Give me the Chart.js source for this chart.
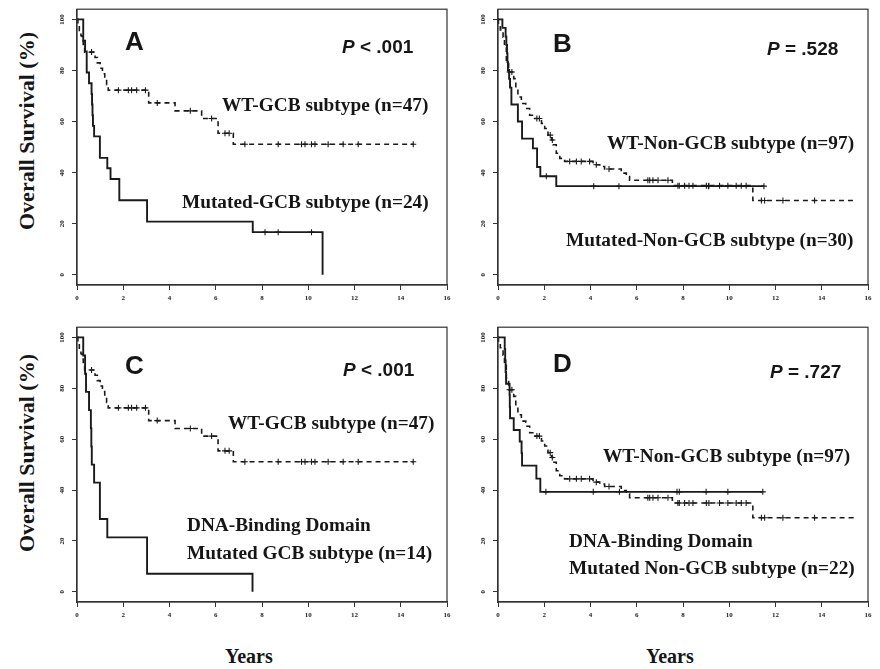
<!DOCTYPE html>
<html>
<head>
<meta charset="utf-8">
<script src="https://cdn.jsdelivr.net/npm/chart.js@4.4.1/dist/chart.umd.min.js"></script>
<style>
    body { margin: 0; background: #fff; }
    #page { position: relative; width: 880px; height: 669px; overflow: hidden; background: #fff; }
    .panel { position: absolute; width: 420px; height: 310px; }
    .txt { position: absolute; white-space: nowrap; line-height: 1; color: #161616; }
    .serif { font-family: "Liberation Serif", "Times New Roman", serif; font-weight: bold; font-size: 19.3px; }
    .sans { font-family: "Liberation Sans", Arial, sans-serif; font-weight: bold; }
    .letter { font-size: 26px; }
    .pval { font-size: 19px; }
    .ytitle { font-family: "Liberation Serif", serif; font-weight: bold; font-size: 22px;
              transform: translate(-50%, -50%) rotate(-90deg); }
    .xtitle { font-family: "Liberation Serif", serif; font-weight: bold; font-size: 20px; }
</style>
</head>
<body>
<div id="page">
    <div class="panel" style="left:40px; top:0px;"><canvas id="chartA" width="420" height="310"></canvas></div>
    <div class="panel" style="left:461px; top:0px;"><canvas id="chartB" width="420" height="310"></canvas></div>
    <div class="panel" style="left:40px; top:318px;"><canvas id="chartC" width="420" height="310"></canvas></div>
    <div class="panel" style="left:461px; top:318px;"><canvas id="chartD" width="420" height="310"></canvas></div>

    <!-- axis titles -->
    <div class="txt ytitle" style="left:27px; top:131px;">Overall Survival (%)</div>
    <div class="txt ytitle" style="left:27px; top:453px;">Overall Survival (%)</div>
    <div class="txt xtitle" style="left:225px; top:646px;">Years</div>
    <div class="txt xtitle" style="left:646px; top:646px;">Years</div>

    <!-- panel A -->
    <div class="txt sans letter" style="left:125px; top:28px;">A</div>
    <div class="txt sans pval" style="left:342px; top:37px;"><i>P</i> &lt; .001</div>
    <div class="txt serif" style="left:222px; top:95px;">WT-GCB subtype (n=47)</div>
    <div class="txt serif" style="left:182px; top:192px;">Mutated-GCB subtype (n=24)</div>

    <!-- panel B -->
    <div class="txt sans letter" style="left:553px; top:30px;">B</div>
    <div class="txt sans pval" style="left:767px; top:39px;"><i>P</i> = .528</div>
    <div class="txt serif" style="left:607px; top:133px;">WT-Non-GCB subtype (n=97)</div>
    <div class="txt serif" style="left:566px; top:230px;">Mutated-Non-GCB subtype (n=30)</div>

    <!-- panel C -->
    <div class="txt sans letter" style="left:125px; top:352px;">C</div>
    <div class="txt sans pval" style="left:343px; top:360px;"><i>P</i> &lt; .001</div>
    <div class="txt serif" style="left:228px; top:413px;">WT-GCB subtype (n=47)</div>
    <div class="txt serif" style="left:187px; top:515px;">DNA-Binding Domain</div>
    <div class="txt serif" style="left:187px; top:543px;">Mutated GCB subtype (n=14)</div>

    <!-- panel D -->
    <div class="txt sans letter" style="left:553px; top:350px;">D</div>
    <div class="txt sans pval" style="left:770px; top:362px;"><i>P</i> = .727</div>
    <div class="txt serif" style="left:603px; top:446px;">WT-Non-GCB subtype (n=97)</div>
    <div class="txt serif" style="left:569px; top:531px;">DNA-Binding Domain</div>
    <div class="txt serif" style="left:569px; top:558px;">Mutated Non-GCB subtype (n=22)</div>
</div>

<script>
// ==================================================
// 1. DATA
// ==================================================
const xTicks = [0, 2, 4, 6, 8, 10, 12, 14, 16];
const yTicks = [0, 20, 40, 60, 80, 100];

// WT-GCB subtype (n=47) - dashed, panels A and C
const wtGcbTime = [0, 0.04, 0.10, 0.17, 0.22, 0.27, 0.33, 0.78, 0.88, 1.00, 1.10, 1.20, 1.28, 1.35, 3.10, 4.24, 5.39, 6.10, 6.76, 14.54];
const wtGcbSurv = [100, 97.9, 95.7, 93.6, 91.5, 89.4, 87.2, 85.1, 83.0, 80.9, 78.7, 76.6, 74.4, 72.3, 67.3, 64.2, 61.2, 55.4, 51.1, 51.1];
const wtGcbCens = [0.63, 1.79, 2.22, 2.36, 2.58, 2.96, 3.47, 4.90, 5.82, 6.40, 6.58, 7.26, 8.70, 9.71, 9.86, 10.14, 10.29, 10.86, 11.51, 12.16, 14.54];

// Mutated-GCB subtype (n=24) - solid, panel A
const mutGcbTime = [0, 0.27, 0.35, 0.42, 0.52, 0.63, 0.65, 0.67, 0.69, 0.74, 0.99, 1.31, 1.45, 1.83, 3.03, 7.60, 10.62];
const mutGcbSurv = [100, 91.7, 87.5, 79.2, 75.0, 70.8, 66.7, 62.5, 58.3, 54.2, 45.8, 41.7, 37.5, 29.2, 20.8, 16.7, 0];
const mutGcbCens = [8.13, 8.70, 10.14];

// WT-Non-GCB subtype (n=97) - dashed, panels B and D
const wtNonGcbTime = [0, 0.02, 0.10, 0.22, 0.28, 0.36, 0.46, 0.68, 0.77, 0.86, 1.01, 1.20, 1.37, 1.54, 1.88, 2.02, 2.16, 2.31, 2.38, 2.52, 2.67, 2.88, 4.11, 4.40, 4.61, 5.33, 5.55, 5.69, 7.54, 11.02, 15.50];
const wtNonGcbSurv = [100, 97.9, 95.9, 93.0, 89.0, 84.0, 79.4, 76.8, 72.9, 69.6, 67.1, 65.1, 62.5, 61.2, 59.3, 57.3, 54.7, 52.8, 50.9, 47.6, 45.6, 44.4, 43.1, 42.4, 41.4, 39.8, 38.5, 37.0, 34.9, 29.1, 29.1];
const wtNonGcbCens = [0.50, 0.60, 1.68, 1.79, 2.26, 2.35, 3.10, 3.39, 3.60, 3.96, 4.25, 4.80, 6.48, 6.56, 6.70, 6.92, 7.35, 7.78, 7.84, 8.07, 8.26, 8.43, 9.01, 9.12, 9.58, 9.94, 10.30, 10.52, 10.73, 11.39, 11.53, 12.32, 13.69];

// Mutated-Non-GCB subtype (n=30) - solid, panel B
const mutNonGcbTime = [0, 0.19, 0.33, 0.36, 0.39, 0.41, 0.43, 0.48, 0.52, 0.58, 0.86, 1.04, 1.51, 1.69, 1.83, 2.52, 11.50];
const mutNonGcbSurv = [100, 96.7, 93.3, 90.0, 86.7, 83.3, 80.0, 76.7, 73.3, 66.7, 60.0, 53.3, 49.5, 42.2, 38.6, 34.7, 34.7];
const mutNonGcbCens = [2.09, 4.14, 5.23, 9.10, 11.50];

// DNA-Binding Domain Mutated GCB subtype (n=14) - solid, panel C
const dnaGcbTime = [0, 0.27, 0.35, 0.39, 0.52, 0.60, 0.62, 0.64, 0.74, 0.99, 1.31, 3.03, 7.59];
const dnaGcbSurv = [100, 92.9, 85.7, 78.6, 71.4, 64.3, 57.1, 50.0, 42.9, 28.6, 21.4, 7.1, 0];
const dnaGcbCens = [];

// DNA-Binding Domain Mutated Non-GCB subtype (n=22) - solid, panel D
const dnaNonGcbTime = [0, 0.29, 0.31, 0.33, 0.35, 0.50, 0.51, 0.52, 0.68, 0.94, 1.02, 1.04, 1.66, 1.83, 11.45];
const dnaNonGcbSurv = [100, 95.5, 90.9, 86.4, 81.8, 77.3, 72.7, 68.2, 63.6, 59.1, 54.5, 49.6, 44.5, 39.3, 39.3];
const dnaNonGcbCens = [2.07, 4.12, 5.25, 7.74, 7.84, 9.00, 9.94, 11.45];

// ==================================================
// 2. HELPERS
// ==================================================
const INK = '#1a1a1a';

function toPoints(times, surv) {
    return times.map((t, i) => ({ x: t, y: surv[i] }));
}

// censor mark sits on the curve value at that time
function stepValue(times, surv, t) {
    let v = surv[0];
    for (let i = 0; i < times.length; i++) {
        if (times[i] <= t) v = surv[i];
    }
    return v;
}

function censorPoints(times, surv, cens) {
    return cens.map(t => ({ x: t, y: stepValue(times, surv, t) }));
}

const boxPlugin = {
    id: 'box',
    afterDraw(chart) {
        const a = chart.chartArea;
        const ctx = chart.ctx;
        ctx.save();
        ctx.strokeStyle = '#333';
        ctx.lineWidth = 1.2;
        ctx.strokeRect(a.left, a.top, a.right - a.left, a.bottom - a.top);
        ctx.restore();
    }
};

const tickFont = { family: 'Liberation Serif', size: 7, weight: 'bold' };

// ==================================================
// 3. PANEL BUILDER
// ==================================================
function buildPanel(canvasId, curves, xAxisHeight) {
    const datasets = [];
    curves.forEach(c => {
        datasets.push({
            data: toPoints(c.time, c.surv),
            showLine: true,
            stepped: true,
            borderColor: INK,
            borderWidth: c.dashed ? 1.6 : 1.9,
            borderDash: c.dashed ? [5, 4] : [],
            pointRadius: 0,
            fill: false
        });
        datasets.push({
            data: censorPoints(c.time, c.surv, c.cens),
            showLine: false,
            pointStyle: 'cross',
            pointRadius: 3,
            borderColor: INK,
            borderWidth: 1.1
        });
    });

    new Chart(document.getElementById(canvasId), {
        type: 'scatter',
        data: { datasets },
        options: {
            responsive: false,
            animation: false,
            layout: { padding: { top: 7, right: 13, left: 0, bottom: 0 } },
            plugins: { legend: { display: false }, tooltip: { enabled: false } },
            scales: {
                x: {
                    type: 'linear',
                    min: 0,
                    max: 16,
                    afterBuildTicks: s => { s.ticks = xTicks.map(v => ({ value: v })); },
                    afterFit: s => { s.height = xAxisHeight; },
                    ticks: { font: tickFont, color: '#222', padding: 4, maxRotation: 0, autoSkip: false },
                    grid: { drawOnChartArea: false, drawTicks: true, tickLength: 5, color: '#333' },
                    border: { display: true, color: '#333', width: 1.2 }
                },
                y: {
                    type: 'linear',
                    min: -4,
                    max: 104,
                    afterBuildTicks: s => { s.ticks = yTicks.map(v => ({ value: v })); },
                    afterFit: s => { s.width = 37; },
                    ticks: { font: tickFont, color: '#222', padding: 5, minRotation: 90, maxRotation: 90, crossAlign: 'center' },
                    grid: { drawOnChartArea: false, drawTicks: true, tickLength: 5, color: '#333' },
                    border: { display: true, color: '#333', width: 1.2 }
                }
            }
        },
        plugins: [boxPlugin]
    });
}

// ==================================================
// 4. INIT
// ==================================================
const wtGcb     = { time: wtGcbTime, surv: wtGcbSurv, cens: wtGcbCens, dashed: true };
const wtNonGcb  = { time: wtNonGcbTime, surv: wtNonGcbSurv, cens: wtNonGcbCens, dashed: true };

buildPanel('chartA', [wtGcb, { time: mutGcbTime, surv: mutGcbSurv, cens: mutGcbCens }], 25);
buildPanel('chartB', [wtNonGcb, { time: mutNonGcbTime, surv: mutNonGcbSurv, cens: mutNonGcbCens }], 25);
buildPanel('chartC', [wtGcb, { time: dnaGcbTime, surv: dnaGcbSurv, cens: dnaGcbCens }], 26);
buildPanel('chartD', [wtNonGcb, { time: dnaNonGcbTime, surv: dnaNonGcbSurv, cens: dnaNonGcbCens }], 26);
</script>
</body>
</html>
